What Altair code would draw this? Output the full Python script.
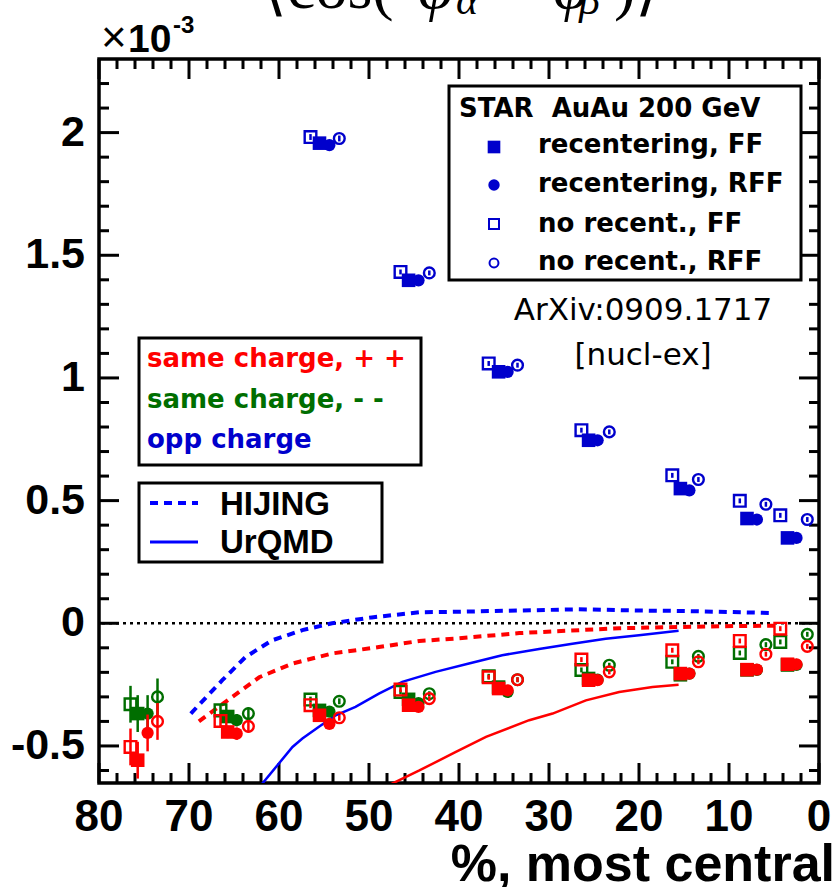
import altair as alt
import pandas as pd
import numpy as np

# ---------------- data (correlator values in units of 1e-3) ----------------
centrality_bins = ["70-80", "60-70", "50-60", "40-50", "30-40", "20-30", "10-20", "5-10", "0-5"]

# plotted centrality of each method (points are shifted for visibility)
x_open_sq   = [76.5, 66.5, 56.5, 46.5, 36.7, 26.4, 16.3, 8.8, 4.3]
x_fill_sq   = [75.7, 65.7, 55.5, 45.6, 35.6, 25.6, 15.4, 8.0, 3.5]
x_fill_circ = [74.6, 64.7, 54.4, 44.5, 34.6, 24.6, 14.4, 6.9, 2.5]
x_open_circ = [73.5, 63.4, 53.3, 43.3, 33.5, 23.3, 13.4, 5.9, 1.3]

stat_err = [0.075, 0.025, 0.012, 0.010, 0.010, 0.010, 0.010, 0.010, 0.010]

# opposite charge (None = off scale)
opp_fill_sq   = [None, None, 1.957, 1.398, 1.025, 0.746, 0.549, 0.427, 0.348]
opp_fill_circ = [None, None, 1.949, 1.398, 1.025, 0.746, 0.542, 0.423, 0.348]
opp_open_sq   = [None, None, 1.982, 1.432, 1.059, 0.787, 0.603, 0.499, 0.440]
opp_open_circ = [None, None, 1.976, 1.428, 1.052, 0.780, 0.586, 0.485, 0.423]

# same charge ++
pp_open_sq   = [-0.504, -0.398, -0.334, -0.270, -0.220, -0.148, -0.110, -0.072, -0.022]
pp_fill_sq   = [-0.558, -0.443, -0.375, -0.334, -0.266, -0.232, -0.205, -0.189, -0.167]
pp_fill_circ = [-0.447, -0.450, -0.410, -0.341, -0.273, -0.232, -0.205, -0.189, -0.167]
pp_open_circ = [-0.400, -0.420, -0.385, -0.307, -0.230, -0.198, -0.157, -0.126, -0.094]

# same charge --
mm_open_sq   = [-0.330, -0.355, -0.311, -0.280, -0.216, -0.190, -0.157, -0.121, -0.076]
mm_fill_sq   = [-0.368, -0.380, -0.355, -0.310, -0.260, -0.225, -0.210, -0.190, -0.170]
mm_fill_circ = [-0.368, -0.395, -0.360, -0.325, -0.280, -0.230, -0.205, -0.190, -0.170]
mm_open_circ = [-0.300, -0.368, -0.318, -0.287, -0.230, -0.171, -0.135, -0.087, -0.045]

# model curves
hijing_opp_x = [69.8, 66.3, 63.7, 60.8, 57.4, 54.1, 49.7, 44.4, 40.3, 33.3, 26.7, 20.0, 14.8, 5.2]
hijing_opp_y = [-0.368, -0.232, -0.137, -0.070, -0.028, 0.000, 0.024, 0.045, 0.047, 0.052, 0.057, 0.052, 0.050, 0.042]
hijing_same_x = [68.9, 65.2, 62.2, 58.5, 54.1, 48.9, 44.4, 40.3, 33.3, 22.2, 11.1, 5.0]
hijing_same_y = [-0.400, -0.300, -0.220, -0.164, -0.123, -0.097, -0.072, -0.062, -0.040, -0.020, -0.012, -0.010]
urqmd_opp_x = [62.0, 58.5, 57.4, 55.6, 53.7, 51.5, 48.9, 46.3, 42.6, 38.9, 35.2, 31.1, 27.4, 23.7, 20.0, 15.6]
urqmd_opp_y = [-0.660, -0.504, -0.470, -0.423, -0.375, -0.341, -0.287, -0.239, -0.198, -0.164, -0.130, -0.105, -0.083, -0.063, -0.049, -0.030]
urqmd_same_x = [47.8, 44.4, 40.4, 37.0, 32.2, 29.6, 25.9, 22.2, 18.5, 15.6]
urqmd_same_y = [-0.660, -0.600, -0.525, -0.463, -0.395, -0.368, -0.314, -0.280, -0.260, -0.251]

# axis ticks and labels
x_major = [80, 70, 60, 50, 40, 30, 20, 10, 0]
x_minor = [v for v in range(0, 81, 2) if v % 10 != 0]
y_major = [-0.5, 0, 0.5, 1, 1.5, 2]
y_major_labels = ["-0.5", "0", "0.5", "1", "1.5", "2"]
y_minor = [round(v, 1) for v in np.arange(-0.6, 2.25, 0.1) if abs(round(v * 2, 1) - round(v * 2)) > 1e-6]

# ---------------- styling ----------------
W, H = 720, 724
BLUE, RED, GREEN = "#0000cc", "#ff0000", "#006e00"
LBLUE = "#0000ff"
SANS = "Liberation Sans"
LEG = "DejaVu Sans"

xs = alt.Scale(domain=[0, 80], reverse=True, nice=False, zero=False)
ys = alt.Scale(domain=[-0.651, 2.3], nice=False, zero=False)

xs_by_kind = {"open_sq": x_open_sq, "fill_sq": x_fill_sq, "fill_circ": x_fill_circ, "open_circ": x_open_circ}
series = {
    "mm": (GREEN, {"open_sq": mm_open_sq, "fill_sq": mm_fill_sq, "fill_circ": mm_fill_circ, "open_circ": mm_open_circ}),
    "pp": (RED, {"open_sq": pp_open_sq, "fill_sq": pp_fill_sq, "fill_circ": pp_fill_circ, "open_circ": pp_open_circ}),
    "opp": (BLUE, {"open_sq": opp_open_sq, "fill_sq": opp_fill_sq, "fill_circ": opp_fill_circ, "open_circ": opp_open_circ}),
}
kind_style = {
    "open_sq": dict(shape="square", filled=False, size=135, strokeWidth=2.4),
    "fill_sq": dict(shape="square", filled=True, size=185),
    "fill_circ": dict(shape="circle", filled=True, size=150),
    "open_circ": dict(shape="circle", filled=False, size=115, strokeWidth=2.4),
}

layers = []

# frame ticks (inward, ROOT style)
def tick_layer(vals, axis_dim, side, length):
    df = pd.DataFrame({"v": vals})
    m = alt.Chart(df).mark_rule(color="black", strokeWidth=3)
    if axis_dim == "x":
        enc = dict(x=alt.X("v:Q", scale=xs, axis=None))
        if side == "bottom":
            enc.update(y=alt.value(H), y2=alt.value(H - length))
        else:
            enc.update(y=alt.value(0), y2=alt.value(length))
    else:
        enc = dict(y=alt.Y("v:Q", scale=ys, axis=None))
        if side == "left":
            enc.update(x=alt.value(0), x2=alt.value(length))
        else:
            enc.update(x=alt.value(W), x2=alt.value(W - length))
    return m.encode(**enc)

layers.append(tick_layer(x_major, "x", "bottom", 20))
layers.append(tick_layer(x_major, "x", "top", 20))
layers.append(tick_layer(x_minor, "x", "bottom", 10))
layers.append(tick_layer(x_minor, "x", "top", 10))
layers.append(tick_layer(y_major, "y", "left", 20))
layers.append(tick_layer(y_major, "y", "right", 20))
layers.append(tick_layer(y_minor, "y", "left", 10))
layers.append(tick_layer(y_minor, "y", "right", 10))

# tick labels through the scales
layers.append(alt.Chart(pd.DataFrame({"v": x_major})).mark_text(
    font=SANS, fontWeight="bold", fontSize=44, color="black", align="center", baseline="alphabetic"
).encode(x=alt.X("v:Q", scale=xs, axis=None), y=alt.value(H + 48), text=alt.Text("v:Q", format="d")))
layers.append(alt.Chart(pd.DataFrame({"v": y_major, "lab": y_major_labels})).mark_text(
    font=SANS, fontWeight="bold", fontSize=43, color="black", align="right", baseline="middle"
).encode(y=alt.Y("v:Q", scale=ys, axis=None), x=alt.value(-14), text="lab:N"))

# zero line
layers.append(alt.Chart(pd.DataFrame({"y": [0]})).mark_rule(color="black", strokeWidth=2.5, strokeDash=[3, 4])
              .encode(y=alt.Y("y:Q", scale=ys, axis=None)))

# model curves
def curve(xv, yv, color, dash, width):
    df = pd.DataFrame({"x": xv, "y": yv})
    kw = dict(color=color, strokeWidth=width, clip=True)
    if dash:
        kw["strokeDash"] = dash
    return alt.Chart(df).mark_line(**kw).encode(
        x=alt.X("x:Q", scale=xs, axis=None), y=alt.Y("y:Q", scale=ys, axis=None))

layers.append(curve(hijing_opp_x, hijing_opp_y, LBLUE, [8, 6], 4))
layers.append(curve(hijing_same_x, hijing_same_y, RED, [8, 6], 4))
layers.append(curve(urqmd_opp_x, urqmd_opp_y, LBLUE, None, 2.5))
layers.append(curve(urqmd_same_x, urqmd_same_y, RED, None, 2.5))

# data points
for ch, (color, vals) in series.items():
    for kind in ["open_sq", "fill_sq", "fill_circ", "open_circ"]:
        df = pd.DataFrame({"x": xs_by_kind[kind], "y": vals[kind], "e": stat_err, "bin": centrality_bins}).dropna()
        df["lo"] = df["y"] - df["e"]
        df["hi"] = df["y"] + df["e"]
        base = alt.Chart(df)
        layers.append(base.mark_rule(color=color, strokeWidth=2.5).encode(
            x=alt.X("x:Q", scale=xs, axis=None), y=alt.Y("lo:Q", scale=ys, axis=None), y2="hi:Q"))
        st = kind_style[kind]
        pk = dict(shape=st["shape"], filled=st["filled"], size=st["size"], color=color, opacity=1)
        if not st["filled"]:
            pk["strokeWidth"] = st["strokeWidth"]
        layers.append(base.mark_point(**pk).encode(
            x=alt.X("x:Q", scale=xs, axis=None), y=alt.Y("y:Q", scale=ys, axis=None)))

# ---------------- decorations: legends and texts ----------------
one = pd.DataFrame({"a": [0]})

def box(x1, x2, y1, y2):
    return alt.Chart(one).mark_rect(fill="white", stroke="black", strokeWidth=3).encode(
        x=alt.value(x1), x2=alt.value(x2), y=alt.value(y1), y2=alt.value(y2))

def txt(s, x, y, size, color="black", font=LEG, weight="bold", align="left", style=None, baseline="alphabetic"):
    kw = dict(align=align, baseline=baseline, font=font, fontSize=size, fontWeight=weight, color=color)
    if style:
        kw["fontStyle"] = style
    return alt.Chart(pd.DataFrame({"t": [s]})).mark_text(**kw).encode(
        x=alt.value(x), y=alt.value(y), text="t:N")

def sym(x, y, shape, filled, size, color=BLUE):
    kw = dict(shape=shape, filled=filled, size=size, color=color, opacity=1)
    if not filled:
        kw["strokeWidth"] = 2
    return alt.Chart(one).mark_point(**kw).encode(x=alt.value(x), y=alt.value(y))

# STAR legend
layers.append(box(350, 702, 27, 221))
layers.append(txt("STAR\u00a0 AuAu 200 GeV", 360, 58, 26))
for (lbl, shp, fil, sz, sy, ty) in [
    ("recentering, FF", "square", True, 160, 88, 94),
    ("recentering, RFF", "circle", True, 130, 126, 133),
    ("no recent., FF", "square", False, 100, 165, 173),
    ("no recent., RFF", "circle", False, 80, 204, 211),
]:
    layers.append(sym(395, sy, shp, fil, sz))
    layers.append(txt(lbl, 439, ty, 26))

# charge legend
layers.append(box(40, 322, 279, 406))
layers.append(txt("same charge, + +", 48, 308, 26, RED))
layers.append(txt("same charge, - -", 48, 349, 26, GREEN))
layers.append(txt("opp charge", 48, 389, 26, BLUE))

# model legend
layers.append(box(40, 283, 424, 503))
layers.append(alt.Chart(one).mark_rule(color=LBLUE, strokeWidth=4, strokeDash=[8, 6]).encode(
    x=alt.value(51), x2=alt.value(99), y=alt.value(444)))
layers.append(alt.Chart(one).mark_rule(color=LBLUE, strokeWidth=3).encode(
    x=alt.value(51), x2=alt.value(99), y=alt.value(483)))
layers.append(txt("HIJING", 121, 456, 33, font=SANS))
layers.append(txt("UrQMD", 121, 494, 33, font=SANS))

# reference
layers.append(txt("ArXiv:0909.1717", 544, 261, 31, weight="normal", align="center"))
layers.append(txt("[nucl-ex]", 544, 306, 31, weight="normal", align="center"))

# exponent
layers.append(txt("\u00d7", 2, -7, 44, font=SANS, weight="normal"))
layers.append(txt("10", 29, -7, 39, font=SANS))
layers.append(txt("-3", 74, -26, 24, font=SANS))

# axis title
layers.append(txt("%, most central", 736, 822, 52, font=SANS, align="right"))

# y title (mostly cut off at the top edge)
SER = "Liberation Serif"
TB = -51
layers.append(txt("\u27e8cos(", 163, TB, 64, font=SER, weight="normal"))
layers.append(txt("\u03c6", 319, TB, 64, font=SER, weight="normal", style="italic"))
layers.append(txt("\u03b1", 357, TB + 6, 42, font=SER, weight="normal", style="italic"))
layers.append(txt("\u2212 \u03c6", 395, TB, 64, font=SER, weight="normal", style="italic"))
layers.append(txt("\u03b2", 480, TB + 6, 42, font=SER, weight="normal", style="italic"))
layers.append(txt(")\u27e9", 515, TB, 64, font=SER, weight="normal"))

chart = alt.layer(*layers).properties(
    width=W, height=H,
    autosize=alt.AutoSizeParams(type="none"),
    padding={"left": 99, "top": 59, "right": 19, "bottom": 104},
).configure_view(stroke="black", strokeWidth=3.5)

chart.save("out.html", embed_options={"renderer": "svg", "actions": False})
